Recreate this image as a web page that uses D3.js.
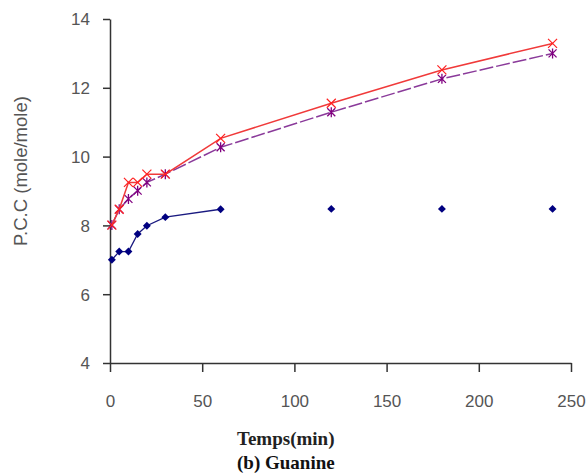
<!DOCTYPE html>
<html>
<head>
<meta charset="utf-8">
<script src="https://cdn.jsdelivr.net/npm/d3@7"></script>
<style>
  body { margin: 0; background: #fff; }
  svg { display: block; }
</style>
</head>
<body>
<div id="chart"></div>
<script>
// Data
var times = [1, 5, 10, 15, 20, 30, 60, 120, 180, 240];
var blueValues = [7.0, 7.24, 7.24, 7.75, 7.99, 8.24, 8.47, 8.48, 8.48, 8.48];
var redValues = [8.01, 8.47, 9.25, 9.25, 9.49, 9.49, 10.53, 11.55, 12.52, 13.29];
var purpleValues = [8.01, 8.47, 8.77, 9.01, 9.25, 9.49, 10.27, 11.29, 12.26, 13.0];
// blue series is only joined by a line up to this time
var blueLineEnd = 60;

var xTicks = [0, 50, 100, 150, 200, 250];
var yTicks = [4, 6, 8, 10, 12, 14];

var svgWidth = 587;
var svgHeight = 475;

var margin = { top: 19, right: 16, bottom: 112, left: 110 };
var chartWidth = svgWidth - margin.left - margin.right;
var chartHeight = svgHeight - margin.top - margin.bottom;

var svg = d3.select("#chart")
  .append("svg")
  .attr("width", svgWidth)
  .attr("height", svgHeight);

var chartGroup = svg.append("g")
  .attr("transform", `translate(${margin.left}, ${margin.top})`);

var xScale = d3.scaleLinear().domain([0, 250]).range([0, 461]);
var yScale = d3.scaleLinear().domain([4, 14]).range([chartHeight, 0]);

// axes
var xAxis = chartGroup.append("g")
  .attr("transform", `translate(0, ${chartHeight})`)
  .call(d3.axisBottom(xScale).tickValues(xTicks).tickSize(9).tickPadding(23).tickSizeOuter(0));

var yAxis = chartGroup.append("g")
  .call(d3.axisLeft(yScale).tickValues(yTicks).tickSize(7).tickPadding(13).tickSizeOuter(0));

[xAxis, yAxis].forEach(function(ax) {
  ax.select(".domain").attr("stroke", "#333").attr("stroke-width", 1.5);
  ax.selectAll(".tick line").attr("stroke", "#333").attr("stroke-width", 1.5);
  ax.selectAll("text")
    .attr("font-family", "'Liberation Sans', Arial, sans-serif")
    .attr("font-size", 17)
    .attr("fill", "#555");
});
yAxis.selectAll("text").attr("dy", "0.35em");

function seriesData(values) {
  return times.map(function(t, i) { return { t: t, v: values[i] }; });
}

var line = d3.line()
  .x(d => xScale(d.t))
  .y(d => yScale(d.v));

// blue series
var blueData = seriesData(blueValues);
chartGroup.append("path")
  .datum(blueData.filter(d => d.t <= blueLineEnd))
  .attr("d", line)
  .attr("fill", "none")
  .attr("stroke", "#1a1a80")
  .attr("stroke-width", 1.3);

chartGroup.selectAll(".blue-pt")
  .data(blueData)
  .enter()
  .append("path")
  .attr("class", "blue-pt")
  .attr("transform", d => `translate(${xScale(d.t)}, ${yScale(d.v)})`)
  .attr("d", d3.symbol().type(d3.symbolDiamond2).size(40))
  .attr("fill", "#000080");

// purple series (dashed, star markers)
var purpleData = seriesData(purpleValues);
chartGroup.append("path")
  .datum(purpleData)
  .attr("d", line)
  .attr("fill", "none")
  .attr("stroke", "#8a3a9a")
  .attr("stroke-width", 1.5)
  .attr("stroke-dasharray", "14,3");

chartGroup.selectAll(".purple-pt")
  .data(purpleData)
  .enter()
  .append("path")
  .attr("class", "purple-pt")
  .attr("transform", d => `translate(${xScale(d.t)}, ${yScale(d.v)})`)
  .attr("d", "M-4,-4L4,4M-4,4L4,-4M0,-5L0,5")
  .attr("stroke", "#800080")
  .attr("stroke-width", 1.3);

// red series (solid, x markers)
var redData = seriesData(redValues);
chartGroup.append("path")
  .datum(redData)
  .attr("d", line)
  .attr("fill", "none")
  .attr("stroke", "#f03a3a")
  .attr("stroke-width", 1.5);

chartGroup.selectAll(".red-pt")
  .data(redData)
  .enter()
  .append("path")
  .attr("class", "red-pt")
  .attr("transform", d => `translate(${xScale(d.t)}, ${yScale(d.v)})`)
  .attr("d", "M-4.5,-4.5L4.5,4.5M-4.5,4.5L4.5,-4.5")
  .attr("stroke", "#ff2020")
  .attr("stroke-width", 1.2);

// axis titles
svg.append("text")
  .attr("transform", "translate(27, 171) rotate(-90)")
  .attr("text-anchor", "middle")
  .attr("font-family", "'Liberation Sans', Arial, sans-serif")
  .attr("font-size", 18.5)
  .attr("fill", "#555")
  .text("P.C.C (mole/mole)");

svg.append("text")
  .attr("x", 237)
  .attr("y", 445)
  .attr("font-family", "'Liberation Serif', 'Times New Roman', serif")
  .attr("font-size", 19)
  .attr("fill", "#222")
  .attr("font-weight", "bold")
  .text("Temps(min)");

svg.append("text")
  .attr("x", 237)
  .attr("y", 469)
  .attr("font-family", "'Liberation Serif', 'Times New Roman', serif")
  .attr("font-size", 19)
  .attr("font-weight", "bold")
  .attr("fill", "#111")
  .text("(b) Guanine");
</script>
</body>
</html>
